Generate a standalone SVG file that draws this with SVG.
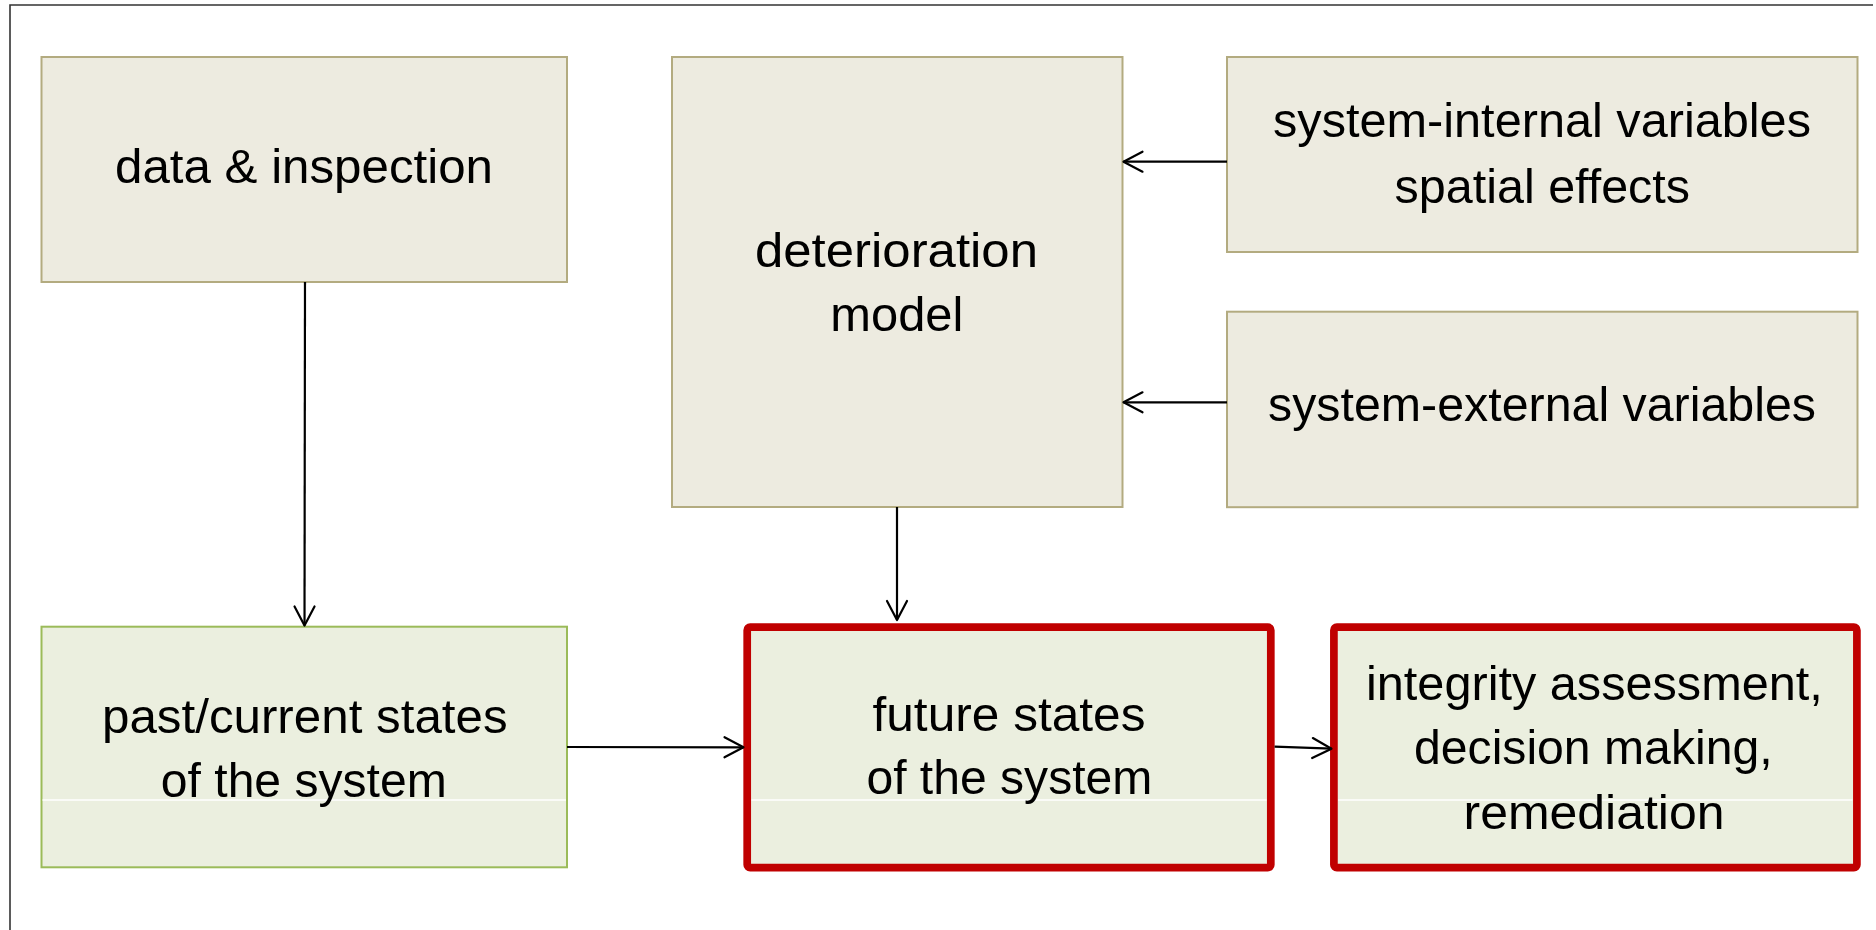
<svg xmlns="http://www.w3.org/2000/svg" width="1876" height="930" viewBox="0 0 1876 930">
<defs>
<style>
.beige{fill:#EDEBE0;stroke:#B3AB80;stroke-width:2}
.green{fill:#EBEFDF;stroke:#9BBB59;stroke-width:2}
.red{fill:#EBEFDF;stroke:#C00000;stroke-width:7.7}
.sep{stroke:#FFFFFF;stroke-width:1.5}
.t{font-family:"Liberation Sans",Arial,sans-serif;font-size:48px;fill:#000;text-anchor:middle}
.c{fill:none;stroke:#000;stroke-width:2.2}
.frame{fill:none;stroke:#333;stroke-width:1.6}
</style>
<marker id="arr" viewBox="-22 -12 24 24" markerWidth="24" markerHeight="24" refX="0" refY="0" orient="auto" markerUnits="userSpaceOnUse">
<path d="M -19 -10 L 0 0 L -19 10" fill="none" stroke="#000" stroke-width="2.2" stroke-linejoin="round" stroke-linecap="round"/>
</marker>
</defs>
<rect x="0" y="0" width="1876" height="930" fill="#FFFFFF"/>
<path class="frame" d="M10 930 L10 5 L1873 5"/>

<g id="data-inspection">
<rect class="beige" x="41.5" y="57" width="525.5" height="225"/>
<text class="t" x="304" y="183" textLength="378" lengthAdjust="spacingAndGlyphs">data &amp; inspection</text>
</g>

<g id="deterioration-model">
<rect class="beige" x="672" y="57" width="450.5" height="450"/>
<text class="t" x="896.5" y="267" textLength="283" lengthAdjust="spacingAndGlyphs">deterioration</text>
<text class="t" x="896.8" y="331" textLength="133" lengthAdjust="spacingAndGlyphs">model</text>
</g>

<g id="system-internal">
<rect class="beige" x="1227" y="57" width="630.5" height="195"/>
<text class="t" x="1542" y="137" textLength="538" lengthAdjust="spacingAndGlyphs">system-internal variables</text>
<text class="t" x="1542.3" y="203" textLength="295.5" lengthAdjust="spacingAndGlyphs">spatial effects</text>
</g>

<g id="system-external">
<rect class="beige" x="1227" y="311.7" width="630.5" height="195.5"/>
<text class="t" x="1542" y="420.7" textLength="548" lengthAdjust="spacingAndGlyphs">system-external variables</text>
</g>

<g id="past-current">
<rect class="green" x="41.5" y="626.7" width="525.5" height="240.6"/>
<line class="sep" x1="42.5" y1="800" x2="566" y2="800"/>
<text class="t" x="304.8" y="732.7" textLength="405.6" lengthAdjust="spacingAndGlyphs">past/current states</text>
<text class="t" x="303.8" y="796.7" textLength="286" lengthAdjust="spacingAndGlyphs">of the system</text>
</g>

<g id="future-states">
<rect class="red" x="747.2" y="627.2" width="523.6" height="240.5" rx="3"/>
<line class="sep" x1="751.5" y1="800" x2="1266.5" y2="800"/>
<text class="t" x="1009" y="730.7" textLength="273" lengthAdjust="spacingAndGlyphs">future states</text>
<text class="t" x="1009.4" y="794.3" textLength="286" lengthAdjust="spacingAndGlyphs">of the system</text>
</g>

<g id="integrity-assessment">
<rect class="red" x="1333.9" y="627.2" width="523" height="240.5" rx="3"/>
<line class="sep" x1="1338" y1="800" x2="1852.5" y2="800"/>
<text class="t" x="1594.4" y="700" textLength="456.8" lengthAdjust="spacingAndGlyphs">integrity assessment,</text>
<text class="t" x="1593.3" y="764" textLength="358.5" lengthAdjust="spacingAndGlyphs">decision making,</text>
<text class="t" x="1594" y="828.7" textLength="261" lengthAdjust="spacingAndGlyphs">remediation</text>
</g>

<g id="connectors">
<line class="c" x1="305" y1="282" x2="304.5" y2="625.5" marker-end="url(#arr)"/>
<line class="c" x1="897" y1="507" x2="897" y2="620" marker-end="url(#arr)"/>
<line class="c" x1="1227" y1="161.7" x2="1123.5" y2="161.7" marker-end="url(#arr)"/>
<line class="c" x1="1227" y1="402.3" x2="1123.5" y2="402.3" marker-end="url(#arr)"/>
<line class="c" x1="567" y1="747" x2="743.5" y2="747.3" marker-end="url(#arr)"/>
<line class="c" x1="1274.6" y1="746.7" x2="1331.5" y2="748.7" marker-end="url(#arr)"/>
</g>
</svg>
